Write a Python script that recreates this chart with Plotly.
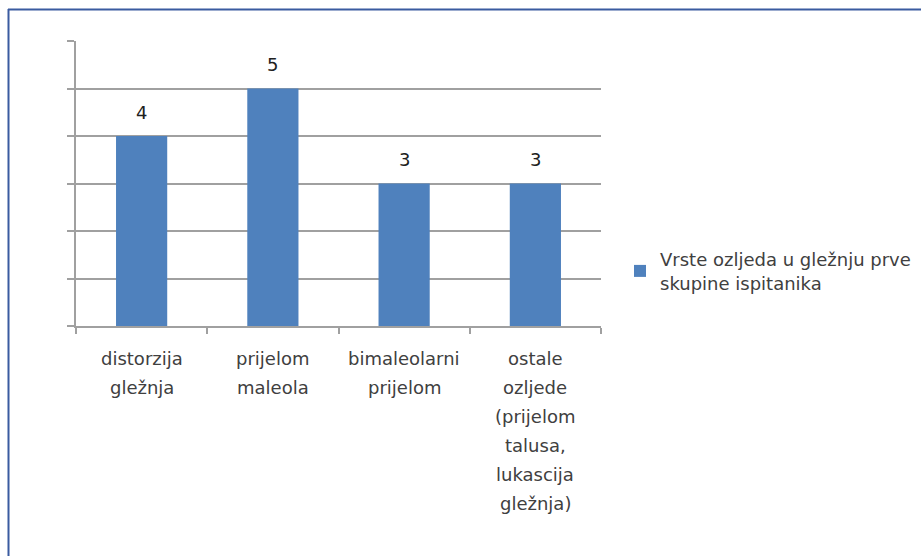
import plotly.graph_objects as go

categories = ["distorzija gležnja", "prijelom maleola", "bimaleolarni prijelom",
              "ostale ozljede (prijelom talusa, lukascija gležnja)"]
label_lines = [["distorzija", "gležnja"], ["prijelom", "maleola"], ["bimaleolarni", "prijelom"],
               ["ostale", "ozljede", "(prijelom", "talusa,", "lukascija", "gležnja)"]]
values = [4, 5, 3, 3]
series_name = "Vrste ozljeda u gležnju prve<br>skupine ispitanika"

FONT = "DejaVu Sans"
FS = 18
BAR = "#4F81BD"
GRID = "#A0A0A0"
TXT = "#404040"

W, H = 921, 556
L, R, T, B = 76, 601, 41, 326
pw, ph = R - L, B - T

fig = go.Figure()
fig.add_trace(go.Bar(x=categories, y=values, name=series_name, marker_color=BAR,
                     marker_line_width=0, showlegend=True))

for c, v in zip(categories, values):
    fig.add_annotation(x=c, y=v, xref="x", yref="y", text=str(v), showarrow=False,
                       yshift=24, font=dict(family=FONT, size=FS, color="#202020"))

for c, lines in zip(categories, label_lines):
    for i, line in enumerate(lines):
        fig.add_annotation(x=c, y=0, xref="x", yref="y", text=line, showarrow=False,
                           yshift=-(32 + 29 * i), font=dict(family=FONT, size=FS, color=TXT))

def px_x(p):
    return (p - L) / pw

def px_y(p):
    return (B - p) / ph

# outer frame (left and top edges)
fig.add_shape(type="line", xref="paper", yref="paper", x0=px_x(8.5), x1=px_x(8.5),
              y0=px_y(9), y1=px_y(600), line=dict(color="#3A5BA0", width=2))
fig.add_shape(type="line", xref="paper", yref="paper", x0=px_x(8), x1=px_x(1000),
              y0=px_y(9.5), y1=px_y(9.5), line=dict(color="#3A5BA0", width=2))

fig.update_layout(
    width=W, height=H,
    margin=dict(l=L, r=W - R, t=T, b=H - B, autoexpand=False),
    paper_bgcolor="white", plot_bgcolor="white",
    bargap=0.61,
    font=dict(family=FONT, size=FS, color=TXT),
    xaxis=dict(type="category", showticklabels=False, ticks="outside", tickson="boundaries",
               ticklen=6, tickcolor=GRID, tickwidth=2, showline=True, linecolor=GRID,
               linewidth=2, showgrid=False, fixedrange=True),
    yaxis=dict(range=[0, 6], dtick=1, showticklabels=False, ticks="outside", ticklen=7,
               tickcolor=GRID, tickwidth=2, showgrid=True, gridcolor=GRID, gridwidth=2,
               showline=True, linecolor=GRID, linewidth=2, zeroline=False, fixedrange=True),
    legend=dict(x=px_x(620), y=px_y(241), xanchor="left", yanchor="top",
                font=dict(family=FONT, size=FS, color=TXT), bgcolor="rgba(0,0,0,0)",
                itemwidth=30, tracegroupgap=0),
)

fig.write_html("out.html")
